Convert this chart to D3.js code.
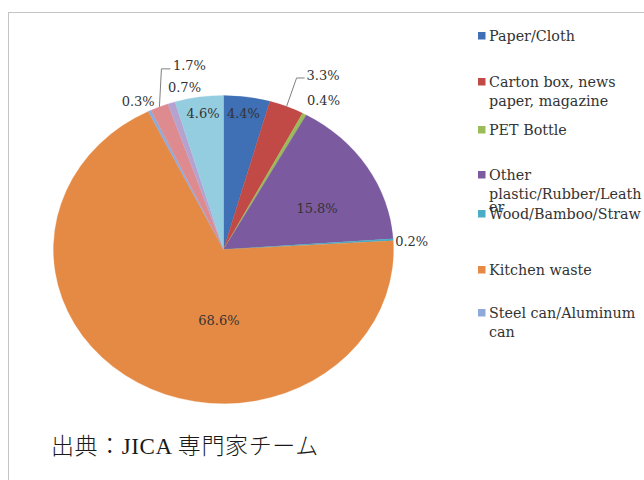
<!DOCTYPE html>
<html>
<head>
<meta charset="utf-8">
<script src="https://cdn.jsdelivr.net/npm/d3@7"></script>
<style>
  html, body { margin: 0; padding: 0; background: #fff; }
  svg { display: block; }
</style>
</head>
<body>
<svg id="chart" width="644" height="480"></svg>
<script>
// Waste composition (percent of total), clockwise from 12 o'clock
const categories = [
  "Paper/Cloth",
  "Carton box, news paper, magazine",
  "PET Bottle",
  "Other plastic/Rubber/Leather",
  "Wood/Bamboo/Straw",
  "Kitchen waste",
  "Steel can/Aluminum can",
  "Glass",
  "Ceramic/Stone",
  "Others"
];
const values = [4.4, 3.3, 0.4, 15.8, 0.2, 68.6, 0.3, 1.7, 0.7, 4.6];
const valueLabels = ["4.4%", "3.3%", "0.4%", "15.8%", "0.2%", "68.6%", "0.3%", "1.7%", "0.7%", "4.6%"];

// Legend entries as they are wrapped in the legend box (only the first seven fit)
const legendLines = [
  ["Paper/Cloth"],
  ["Carton box, news", "paper, magazine"],
  ["PET Bottle"],
  ["Other", "plastic/Rubber/Leath", "er"],
  ["Wood/Bamboo/Straw"],
  ["Kitchen waste"],
  ["Steel can/Aluminum", "can"]
];
const sourceNote = "出典：JICA 専門家チーム";

// ---- styling / layout ----
const colors = ["#3f6fb4", "#c24a46", "#9bbb59", "#7b5aa0", "#4bacc6",
                "#e58a45", "#8eaadb", "#dd8b8e", "#b5a2ce", "#95cde0"];
const cx = 223.5, cy = 249.5, rx = 170, ry = 154;

// label offsets from the slice's outer-edge midpoint: [dx, dy, anchor]
const labelPlace = [
  [-3.5, 16, "middle"], [20, -31, "start"], [2.5, -14, "start"], [-50, 41, "middle"],
  [2, 2, "start"], [81, -62, "middle"], [5, -9, "end"], [13.5, -41, "start"],
  [-3.5, -15, "start"], [4, 16, "middle"]
];
// leader lines (elbow and end offsets from the edge midpoint), by slice index
const leaders = {
  1: [[10, -28.5], [18, -28.5]],
  7: [[2, -38], [11, -38]]
};
const legendTop = [36, 82, 130, 175, 214, 270, 313];
const legendLineOffsets = [0, 19, 32];

const svg = d3.select("#chart");

// frame
svg.append("rect")
  .attr("x", 8.5).attr("y", 12.5)
  .attr("width", 700).attr("height", 500)
  .attr("fill", "#fff")
  .attr("stroke", "#c4c4c4").attr("stroke-width", 1);

const pie = d3.pie().sort(null).value(d => d)(values);
const arc = d3.arc().innerRadius(0).outerRadius(ry);

// pie drawn on a circle, then stretched horizontally into the ellipse
const pieG = svg.append("g")
  .attr("transform", `translate(${cx},${cy}) scale(${rx / ry},1)`);

pieG.selectAll("path")
  .data(pie)
  .join("path")
  .attr("d", arc)
  .attr("fill", (d, i) => colors[i])
  .attr("stroke", (d, i) => colors[i])
  .attr("stroke-width", 0.3);

// point on the ellipse rim at the middle of a slice
function edgePoint(d) {
  const a = (d.startAngle + d.endAngle) / 2;
  return [cx + rx * Math.sin(a), cy - ry * Math.cos(a)];
}

// leader lines
pie.forEach((d, i) => {
  if (!leaders[i]) return;
  const [ex, ey] = edgePoint(d);
  const pts = [[ex, ey]].concat(leaders[i].map(([dx, dy]) => [ex + dx, ey + dy]));
  svg.append("path")
    .attr("d", d3.line()(pts))
    .attr("fill", "none")
    .attr("stroke", "#7f7f7f")
    .attr("stroke-width", 1);
});

// value labels
svg.append("g")
  .selectAll("text")
  .data(pie)
  .join("text")
  .attr("x", (d, i) => edgePoint(d)[0] + labelPlace[i][0])
  .attr("y", (d, i) => edgePoint(d)[1] + labelPlace[i][1])
  .attr("dy", "0.35em")
  .attr("text-anchor", (d, i) => labelPlace[i][2])
  .attr("font-family", "'DejaVu Serif', serif")
  .attr("font-size", 13)
  .attr("fill", "#333")
  .text((d, i) => valueLabels[i]);

// legend
const legend = svg.append("g");
legendLines.forEach((lines, i) => {
  const y0 = legendTop[i];
  legend.append("rect")
    .attr("x", 478).attr("y", y0 - 4)
    .attr("width", 7.5).attr("height", 7.5)
    .attr("fill", colors[i]);
  lines.forEach((t, j) => {
    legend.append("text")
      .attr("x", 489)
      .attr("y", y0 + legendLineOffsets[j])
      .attr("dy", "0.35em")
      .attr("font-family", "'DejaVu Serif', serif")
      .attr("font-size", 14.3)
      .attr("fill", "#333")
      .text(t);
  });
});

// source note
svg.append("text")
  .attr("x", 51).attr("y", 454)
  .attr("font-family", "'Liberation Serif', 'Noto Sans CJK JP', serif")
  .attr("font-size", 23)
  .attr("letter-spacing", 0.6)
  .attr("font-weight", 300)
  .attr("fill", "#1a1a1a")
  .text(sourceNote);
</script>
</body>
</html>
